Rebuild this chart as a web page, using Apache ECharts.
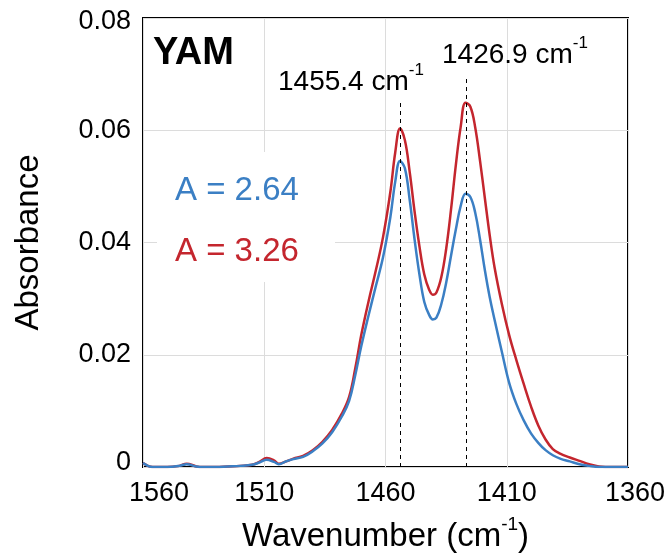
<!DOCTYPE html>
<html>
<head>
<meta charset="utf-8">
<script src="https://cdn.jsdelivr.net/npm/echarts@6/dist/echarts.min.js"></script>
<style>html,body{margin:0;padding:0;background:#fff}#c{width:671px;height:558px}</style>
</head>
<body>
<div id="c"></div>
<script>
// Wavenumber samples (cm-1)
var wavenumbers = [1560,1558,1556,1550,1545,1542,1538,1535,1530,1525,1520,1515,1512,1509,1506,1504,1501,1498,1494,1490,1486,1482,1478,1475,1472.5,1470,1467,1464,1461,1458,1456,1454,1452,1450,1448,1446,1444,1442,1440.5,1439,1437,1435,1433,1431,1429,1427,1425,1423,1421,1419,1417,1415,1412,1409,1406,1403,1400,1397,1394,1391,1388,1384,1380,1376,1372,1366,1360];
// A = 3.26 (red)
var seriesRed = [0.0007,0.0002,0.0000,0.0000,0.0002,0.0006,0.0001,0.0000,0.0000,0.0001,0.0002,0.0004,0.0009,0.0016,0.0012,0.0006,0.0010,0.0015,0.0020,0.0030,0.0045,0.0066,0.0095,0.0125,0.0175,0.0235,0.0295,0.0350,0.0410,0.0490,0.0560,0.0603,0.0582,0.0525,0.0455,0.0393,0.0343,0.0316,0.0307,0.0311,0.0338,0.0388,0.0458,0.0538,0.0606,0.0649,0.0642,0.0605,0.0545,0.0478,0.0412,0.0355,0.0290,0.0235,0.0190,0.0148,0.0108,0.0074,0.0049,0.0032,0.0024,0.0017,0.0011,0.0005,0.0001,0.0000,0.0000];
// A = 2.64 (blue)
var seriesBlue = [0.0007,0.0002,0.0000,0.0000,0.0002,0.0005,0.0001,0.0000,0.0000,0.0001,0.0002,0.0004,0.0008,0.0013,0.0009,0.0005,0.0010,0.0014,0.0018,0.0028,0.0042,0.0062,0.0090,0.0118,0.0163,0.0215,0.0270,0.0322,0.0374,0.0445,0.0508,0.0545,0.0532,0.0475,0.0405,0.0343,0.0294,0.0271,0.0263,0.0266,0.0290,0.0328,0.0376,0.0423,0.0465,0.0487,0.0481,0.0453,0.0405,0.0350,0.0302,0.0262,0.0205,0.0150,0.0112,0.0083,0.0060,0.0043,0.0030,0.0021,0.0015,0.0010,0.0005,0.0002,0.0000,0.0000,0.0000];
var xTickLabels = ['1560','1510','1460','1410','1360'];
var yTickLabels = ['0','0.02','0.04','0.06','0.08'];
var peakPositions = [1454.0, 1426.6];
var peakLineTops = [0.0654, 0.0695];
var peakLabels = ['1455.4', '1426.9'];
var seriesNames = ['A = 2.64', 'A = 3.26'];

var X0 = 1560; // axis shows 1560 at left, decreasing to the right
function toX(w){ return X0 - w; }
function pairs(vals){ return wavenumbers.map(function(w,i){ return [toX(w), vals[i]]; }); }

var FONT = 'Liberation Sans, Arial, Helvetica, sans-serif';
var BLUE = '#3b7fc4', RED = '#c4262e';
var tickRich = function(extra){ return Object.assign({fontSize:27, color:'#000', fontFamily:FONT}, extra); };

var chart = echarts.init(document.getElementById('c'), null, {renderer:'canvas'});
chart.setOption({
  backgroundColor: '#fff',
  animation: false,
  textStyle: {fontFamily: FONT},
  grid: {left:143, top:18, width:485, height:449, show:true, borderColor:'#000', borderWidth:2, backgroundColor:'transparent'},
  xAxis: {
    type:'value', min:0, max:200, interval:50,
    axisLine:{show:false}, axisTick:{show:false},
    splitLine:{show:true, lineStyle:{color:'#dcdcdc', width:1}},
    axisLabel:{
      fontSize:27, color:'#000', fontFamily:FONT, margin:13,
      formatter:function(v){ var i = Math.round(v/50); var t = xTickLabels[i];
        if(i===0) return '{f|'+t+'}'; if(i===4) return '{l|'+t+'}'; return t; },
      rich:{ f:tickRich({padding:[0,0,0,32]}), l:tickRich({padding:[0,0,0,14]}) }
    },
    name:'{a|Wavenumber (cm}{s|-1}{a|)}', nameLocation:'middle', nameGap:48,
    nameTextStyle:{ rich:{ a:{fontSize:33, color:'#000', fontFamily:FONT, lineHeight:38, verticalAlign:'bottom'},
                            s:{fontSize:19, color:'#000', fontFamily:FONT, lineHeight:38, verticalAlign:'top'} } }
  },
  yAxis: {
    type:'value', min:0, max:0.08, interval:0.02,
    axisLine:{show:false}, axisTick:{show:false},
    splitLine:{show:true, lineStyle:{color:'#dcdcdc', width:1}},
    axisLabel:{fontSize:27, color:'#000', fontFamily:FONT, margin:12,
      formatter:function(v){ var i = Math.round(v/0.02); var t = yTickLabels[i];
        if(i===0) return '{b|'+t+'}'; if(i===4) return '{t|'+t+'}'; return t; },
      rich:{ b:tickRich({padding:[0,0,8,0]}), t:tickRich({padding:[8,0,0,0]}) }
    },
    name:'Absorbance', nameLocation:'middle', nameGap:98,
    nameTextStyle:{fontSize:33, color:'#000', fontFamily:FONT}
  },
  series: [
    {name:seriesNames[1], type:'line', data:pairs(seriesRed), smooth:0.4, showSymbol:false,
     lineStyle:{color:RED, width:2.5}, itemStyle:{color:RED}, z:3,
     markLine:{silent:true, symbol:['none','none'], label:{show:false},
       lineStyle:{color:'#000', type:[4,4], width:1},
       data: peakPositions.map(function(p,i){ return [{coord:[toX(p),0]},{coord:[toX(p),peakLineTops[i]]}]; })}},
    {name:seriesNames[0], type:'line', data:pairs(seriesBlue), smooth:0.4, showSymbol:false,
     lineStyle:{color:BLUE, width:2.5}, itemStyle:{color:BLUE}, z:4}
  ],
  graphic: [
    {type:'rect', z:50, shape:{x:157, y:152, width:178, height:130}, style:{fill:'#fff'}},
    {type:'text', z:60, left:153, top:35, style:{text:'YAM', font:'bold 38px '+FONT, fill:'#000'}},
    {type:'text', z:60, left:278, top:62, style:{text:'{a|'+peakLabels[0]+' cm}{s|-1}',
       rich:{a:{fontSize:28, fill:'#000', fontFamily:FONT, lineHeight:34, verticalAlign:'bottom'}, s:{fontSize:17, fill:'#000', fontFamily:FONT, lineHeight:34, verticalAlign:'top'}}}},
    {type:'text', z:60, left:442, top:35, style:{text:'{a|'+peakLabels[1]+' cm}{s|-1}',
       rich:{a:{fontSize:28, fill:'#000', fontFamily:FONT, lineHeight:34, verticalAlign:'bottom'}, s:{fontSize:17, fill:'#000', fontFamily:FONT, lineHeight:34, verticalAlign:'top'}}}},
    {type:'text', z:60, left:175, top:174, style:{text:seriesNames[0], font:'33px '+FONT, fill:BLUE}},
    {type:'text', z:60, left:175, top:235, style:{text:seriesNames[1], font:'33px '+FONT, fill:RED}}
  ]
});
</script>
</body>
</html>
